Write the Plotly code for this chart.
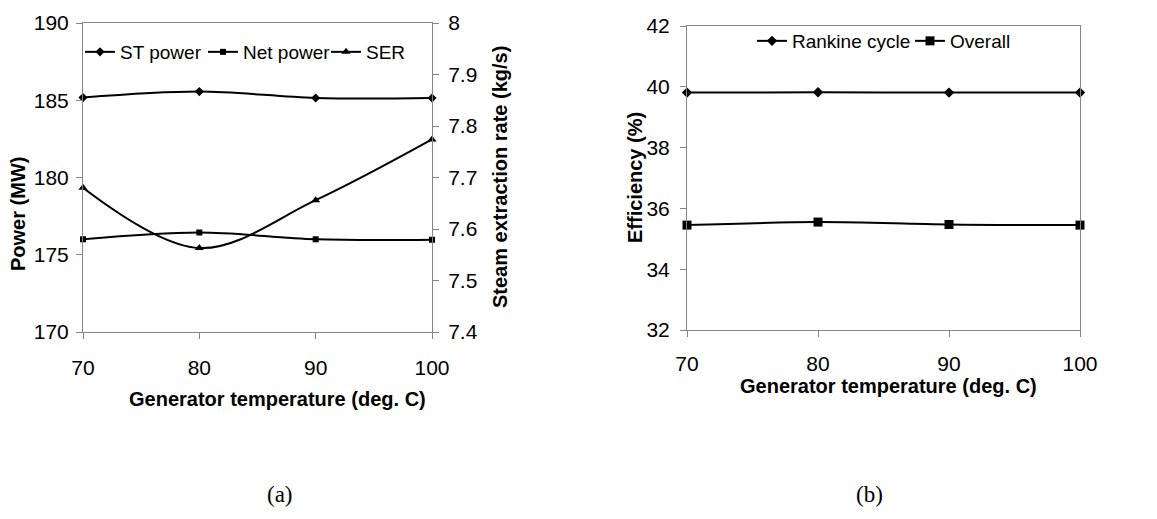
import plotly.graph_objects as go

temps = [70, 80, 90, 100]
st_power = [185.17, 185.56, 185.15, 185.15]
net_power = [176.0, 176.44, 176.0, 175.97]
ser = [7.680, 7.563, 7.656, 7.774]
rankine = [39.81, 39.82, 39.81, 39.81]
overall = [35.45, 35.55, 35.47, 35.45]

W, H = 1157, 519
OFF = 8  # page body margin
SANS = "Liberation Sans, Arial, sans-serif"
SERIF = "Liberation Serif, Times New Roman, serif"
AX = "#868686"
tickfont = dict(family=SANS, size=21, color="black")

def px_x(p):
    return (p - OFF) / W

def px_y(p):
    return 1 - (p - OFF) / H

fig = go.Figure()

line = dict(color="black", width=2, shape="spline", smoothing=1)

fig.add_trace(go.Scatter(x=temps, y=st_power, name="ST power", mode="lines+markers",
                         line=line, marker=dict(symbol="diamond", size=7, color="black"),
                         xaxis="x", yaxis="y", legend="legend", cliponaxis=False))
fig.add_trace(go.Scatter(x=temps, y=net_power, name="Net power", mode="lines+markers",
                         line=line, marker=dict(symbol="square", size=6, color="black"),
                         xaxis="x", yaxis="y", legend="legend", cliponaxis=False))
fig.add_trace(go.Scatter(x=temps, y=ser, name="SER", mode="lines+markers",
                         line=line, marker=dict(symbol="triangle-up", size=8, color="black"),
                         xaxis="x", yaxis="y2", legend="legend", cliponaxis=False))
fig.add_trace(go.Scatter(x=temps, y=rankine, name="Rankine cycle", mode="lines+markers",
                         line=line, marker=dict(symbol="diamond", size=8, color="black"),
                         xaxis="x2", yaxis="y3", legend="legend2", cliponaxis=False))
fig.add_trace(go.Scatter(x=temps, y=overall, name="Overall", mode="lines+markers",
                         line=line, marker=dict(symbol="square", size=9, color="black"),
                         xaxis="x2", yaxis="y3", legend="legend2", cliponaxis=False))

xl = [px_x(83), px_x(432)]
yl = [px_y(332), px_y(23)]
xr = [px_x(687), px_x(1080)]
yr = [px_y(330), px_y(26)]

common_x = dict(range=[70, 100], tickmode="array", tickvals=temps, showgrid=False, zeroline=False,
                showline=True, linecolor=AX, linewidth=1, ticks="outside", ticklen=6, tickcolor=AX,
                tickfont=tickfont, fixedrange=True, automargin=False, mirror=True)

yax_common = dict(showgrid=False, zeroline=False, showline=True, linecolor=AX, linewidth=1,
                  ticks="outside", ticklen=6, tickcolor=AX, tickfont=tickfont, automargin=False)

legend_font = dict(family=SANS, size=19, color="black")

fig.update_layout(
    template="none",
    width=W, height=H,
    paper_bgcolor="white", plot_bgcolor="white",
    margin=dict(l=0, r=0, t=0, b=0, pad=0, autoexpand=False),
    showlegend=True,
    xaxis=dict(domain=xl, anchor="y", ticklabelstandoff=11, **common_x),
    yaxis=dict(domain=yl, anchor="x", range=[170, 190], dtick=5, tick0=170,
               ticklabelstandoff=3, **yax_common),
    yaxis2=dict(overlaying="y", side="right", anchor="x", range=[7.4, 8.0], dtick=0.1, tick0=7.4,
                ticklabelstandoff=5, **yax_common),
    xaxis2=dict(domain=xr, anchor="y3", ticklabelstandoff=9, **common_x),
    yaxis3=dict(domain=yr, anchor="x2", range=[32, 42], dtick=2, tick0=32, mirror=True,
                ticklabelstandoff=6, **yax_common),
    legend=dict(orientation="h", x=px_x(80), xanchor="left", y=px_y(52), yanchor="middle",
                font=legend_font, bgcolor="rgba(0,0,0,0)",
                itemwidth=30, entrywidth=78, entrywidthmode="pixels"),
    legend2=dict(orientation="h", x=px_x(752), xanchor="left", y=px_y(41), yanchor="middle",
                 font=legend_font, bgcolor="rgba(0,0,0,0)",
                 itemwidth=30, entrywidth=113, entrywidthmode="pixels"),
)

title_font = dict(family=SANS, size=20, color="black")
ann = [
    dict(text="<b>Generator temperature (deg. C)</b>", x=px_x(277), y=px_y(399)),
    dict(text="<b>Generator temperature (deg. C)</b>", x=px_x(889), y=px_y(386)),
    dict(text="<b>Power (MW)</b>", x=px_x(18), y=px_y(214), textangle=-90),
    dict(text="<b>Steam extraction rate (kg/s)</b>", x=px_x(500), y=px_y(177), textangle=-90),
    dict(text="<b>Efficiency (%)</b>", x=px_x(635), y=px_y(178), textangle=-90),
]
for a in ann:
    fig.add_annotation(xref="paper", yref="paper", showarrow=False, xanchor="center",
                       yanchor="middle", font=title_font, **a)

for lbl, xc in (("(a)", 280), ("(b)", 869)):
    fig.add_annotation(text=lbl, xref="paper", yref="paper", x=px_x(xc), y=px_y(494),
                       showarrow=False, xanchor="center", yanchor="middle",
                       font=dict(family=SERIF, size=23, color="black"))

fig.write_html("out.html")
